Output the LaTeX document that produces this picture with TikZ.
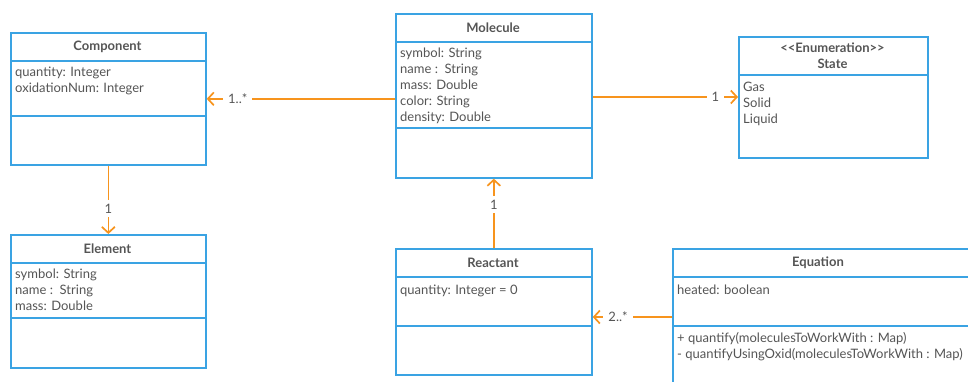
\documentclass[tikz,border=0pt]{standalone}
\usepackage{fontspec}
\setmainfont{Lato}
\usetikzlibrary{arrows.meta,calc}
\definecolor{umlblue}{HTML}{3AA3E3}
\definecolor{umlorange}{HTML}{F7941D}
\definecolor{umltext}{HTML}{555555}
\tikzset{
  classbox/.style={draw=umlblue, line width=1.7pt, rectangle, anchor=north west, inner sep=0pt, fill=white},
  divider/.style={draw=umlblue, line width=1.7pt},
  classtitle/.style={font=\fontsize{13}{16}\selectfont\bfseries, text=umltext, align=center, inner sep=0pt},
  attrs/.style={font=\fontsize{13}{16}\selectfont, text=umltext, align=left, anchor=north west, inner sep=0pt, execute at begin node=\strut},
  assoc/.style={draw=umlorange, line width=1.7pt, -{Straight Barb[length=6pt,width=13pt]}},
  mult/.style={font=\fontsize{13}{14}\selectfont, text=umltext, fill=white, inner xsep=5pt, inner ysep=4pt},
}
\begin{document}
\begin{tikzpicture}[x=1pt,y=-1pt]
\path[use as bounding box, clip] (0,0) rectangle (968,381);

% Component
\node[classbox, minimum width=195pt, minimum height=132pt] (comp) at (10,32) {};
\draw[divider] ($(comp.north west)+(0,29)$) -- ++(195,0);
\draw[divider] ($(comp.north west)+(0,84)$) -- ++(195,0);
\node[classtitle] (compt) at ($(comp.north west)+(97.5,15)$) {Component};
\node[attrs] (compa) at ($(comp.north west)+(5,34.8)$) {quantity: Integer\\oxidationNum: Integer};

% Element
\node[classbox, minimum width=195pt, minimum height=133pt] (elem) at (10,234) {};
\draw[divider] ($(elem.north west)+(0,29)$) -- ++(195,0);
\draw[divider] ($(elem.north west)+(0,84)$) -- ++(195,0);
\node[classtitle] (elemt) at ($(elem.north west)+(97.5,15)$) {Element};
\node[attrs] (elema) at ($(elem.north west)+(5,34.8)$) {symbol: String\\name :\ \ String\\mass: Double};

% Molecule
\node[classbox, minimum width=196pt, minimum height=164pt] (mol) at (395,13) {};
\draw[divider] ($(mol.north west)+(0,29)$) -- ++(196,0);
\draw[divider] ($(mol.north west)+(0,115)$) -- ++(196,0);
\node[classtitle] (molt) at ($(mol.north west)+(98,15)$) {Molecule};
\node[attrs] (mola) at ($(mol.north west)+(5,34.8)$) {symbol: String\\name :\ \ String\\mass: Double\\color: String\\density: Double};

% State
\node[classbox, minimum width=189pt, minimum height=121pt] (st) at (738,36) {};
\draw[divider] ($(st.north west)+(0,39)$) -- ++(189,0);
\node[classtitle] (stt) at ($(st.north west)+(94.5,20)$) {{<}{<}Enumeration{>}{>}\\State};
\node[attrs] (sta) at ($(st.north west)+(5,45.5)$) {Gas\\Solid\\Liquid};

% Reactant
\node[classbox, minimum width=196pt, minimum height=126pt] (rea) at (395,248) {};
\draw[divider] ($(rea.north west)+(0,29)$) -- ++(196,0);
\draw[divider] ($(rea.north west)+(0,78)$) -- ++(196,0);
\node[classtitle] (reat) at ($(rea.north west)+(98,15)$) {Reactant};
\node[attrs] (reaa) at ($(rea.north west)+(5,34.8)$) {quantity: Integer = 0};

% Equation (cut off by the picture edge)
\node[classbox, minimum width=310pt, minimum height=160pt] (eq) at (672,248) {};
\draw[divider] ($(eq.north west)+(0,29)$) -- ++(310,0);
\draw[divider] ($(eq.north west)+(0,78)$) -- ++(310,0);
\node[classtitle] (eqt) at ($(eq.north west)+(146,15)$) {Equation};
\node[attrs] (eqa) at ($(eq.north west)+(5,34.8)$) {heated: boolean};
\node[attrs] (eqm) at ($(eq.north west)+(5,83.8)$) {+ quantify(moleculesToWorkWith : Map)\\- quantifyUsingOxid(moleculesToWorkWith : Map)};

% Associations
\draw[assoc] (mol.west |- comp.east) -- node[mult, pos=0.835] (m1) {1..*} (comp.east);
\coordinate (stend) at ($(st.north west)+(0,61)$);
\draw[assoc] (mol.east |- stend) -- node[mult, pos=0.845] (m2) {1} (stend);
\draw[assoc] (comp.south) -- node[mult, pos=0.63] (m3) {1} (elem.north);
\draw[assoc] (rea.north) -- node[mult, pos=0.63] (m4) {1} (mol.south);
\coordinate (eqend) at ($(eq.north west)+(0,69)$);
\draw[assoc] (eqend) -- node[mult, pos=0.68] (m5) {2..*} (rea.east |- eqend);
\end{tikzpicture}
\end{document}
